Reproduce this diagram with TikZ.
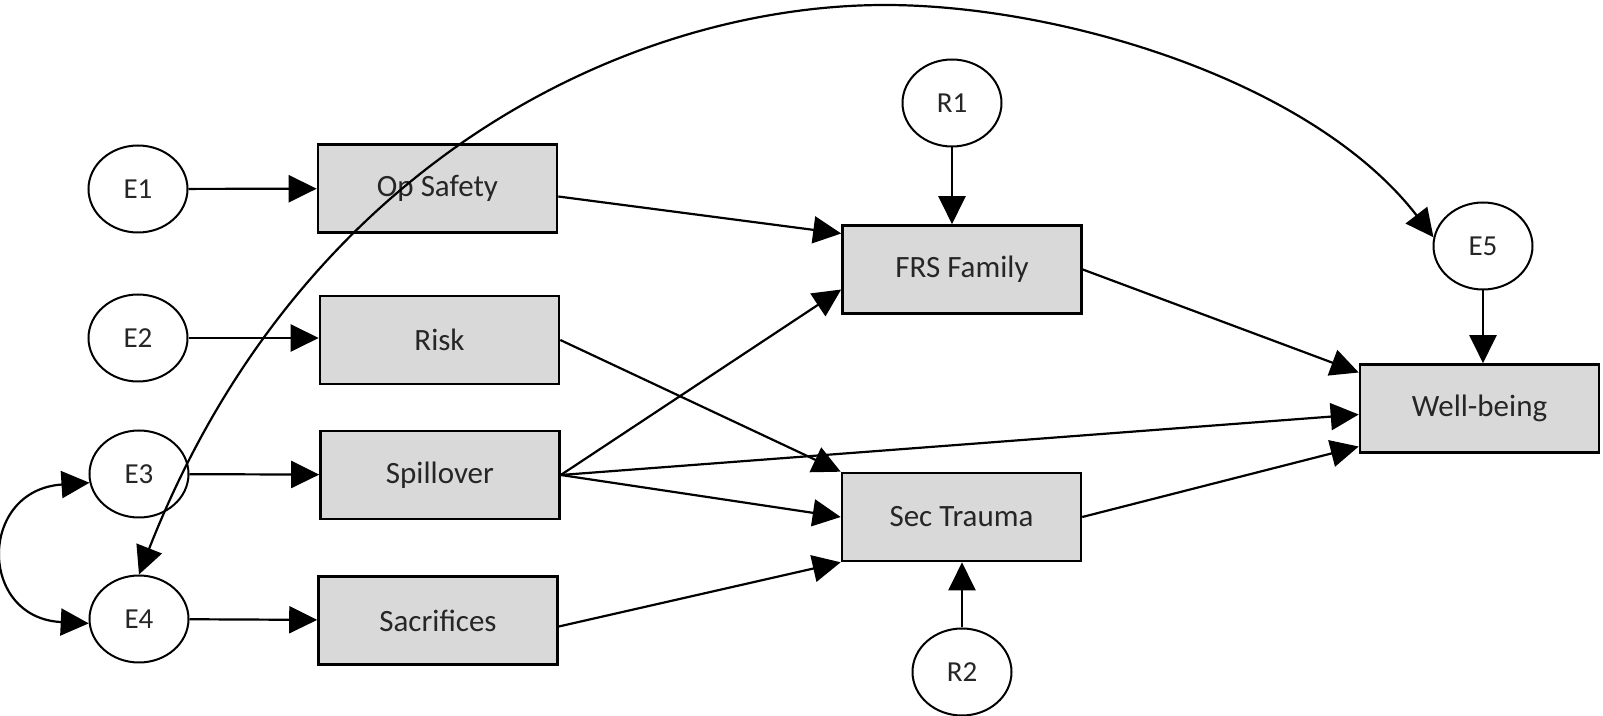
\documentclass[tikz,border=0pt]{standalone}
\usepackage{fontspec}
\setmainfont{Carlito}
\usetikzlibrary{arrows.meta,shapes.geometric}

\begin{document}
\begin{tikzpicture}[x=0.5pt, y=-0.5pt, line width=1.1pt,
	var/.style={draw, line width=1.3pt, fill=black!15, text=black!85, minimum width=119.5pt, minimum height=44pt, inner sep=0pt, font=\fontsize{15.5}{18}\selectfont},
	err/.style={draw, ellipse, line width=1pt, fill=white, text=black!85, minimum width=49.5pt, minimum height=43.5pt, inner sep=0pt, font=\fontsize{14.5}{17}\selectfont},
	arr/.style={-{Triangle[length=14pt,width=13.5pt]}},
	both/.style={{Triangle[length=14pt,width=13.5pt]}-{Triangle[length=14pt,width=13.5pt]}}]

	\useasboundingbox[fill=white] (0,0) rectangle (1603,716);

	% errors
	\node[err] (E1) at (138,189) {E1};
	\node[err] (E2) at (138,338) {E2};
	\node[err] (E3) at (139,474) {E3};
	\node[err] (E4) at (139,619) {E4};

	% observed variables
	\node[var] (opsafety) at (437.5,188.5) {Op Safety};
	\node[var] (risk) at (439.5,340) {Risk};
	\node[var] (spill) at (440,475) {Spillover};
	\node[var] (sacr) at (438,620.5) {Sacrifices};
	\node[var] (frs) at (962,269.5) {FRS Family};
	\node[var] (sectr) at (961.5,517) {Sec Trauma};
	\node[var] (well) at (1479.5,408.5) {Well-being};

	\node[err] (R1) at (952,103) {R1};
	\node[err] (R2) at (962,672) {R2};
	\node[err] (E5) at (1483,246) {E5};
	\coordinate (top) at (885,5);

	\draw[arr] (E1) -- (opsafety);
	\draw[arr] (E2.east) -- (E2.east -| risk.west);
	\draw[arr] (E3) -- (spill);
	\draw[arr] (E4) -- (sacr);

	\draw[arr] ([yshift=-4pt]opsafety.east) -- ([yshift=18pt]frs.west);
	\draw[arr] (risk.east) -- (sectr.north west);
	\draw[arr] (spill.east) -- ([yshift=-10pt]frs.west);
	\draw[arr] (spill.east) -- (sectr.west);
	\draw[arr] (spill.east) -- ([yshift=-3pt]well.west);
	\draw[arr] ([yshift=-3pt]sacr.east) -- (sectr.south west);
	\draw[arr] (frs.east) -- ([yshift=18pt]well.west);
	\draw[arr] (sectr.east) -- ([yshift=-19pt]well.west);

	\draw[arr] (R1) -- (R1 |- frs.north);
	\draw[arr] (R2) -- (R2 |- sectr.south);
	\draw[arr] (E5) -- (E5 |- well.north);

	% covariances
	\draw[both] (E3.190) .. controls (-22,490) and (-22,618) .. (E4.185);
	\draw[both] (E4.north) .. controls (303,157) and (635,5) .. (top)
		.. controls (1060,5) and (1312,80) .. (E5.170);
\end{tikzpicture}
\end{document}
